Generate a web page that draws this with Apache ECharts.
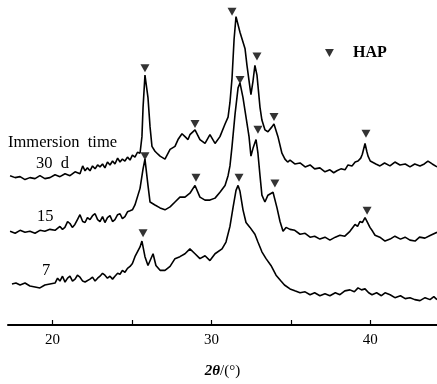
<!DOCTYPE html>
<html>
<head>
<meta charset="utf-8">
<script src="https://cdn.jsdelivr.net/npm/echarts@6/dist/echarts.min.js"></script>
<style>
  html, body { margin: 0; padding: 0; background: #fff; }
  #chart { width: 437px; height: 384px; }
</style>
</head>
<body>
<div id="chart"></div>
<script>
// 2theta (deg) and intensity (a.u., offset per curve)
const theta30 = [17.33,17.65,17.96,18.27,18.58,18.90,19.21,19.52,19.84,20.16,20.47,20.79,21.10,21.42,21.73,21.90,22.05,22.20,22.36,22.52,22.68,22.84,22.99,23.15,23.30,23.46,23.62,23.78,23.93,24.10,24.25,24.40,24.56,24.72,24.88,25.03,25.19,25.35,25.51,25.63,25.70,25.82,26.01,26.14,26.26,26.45,26.64,26.77,27.08,27.40,27.71,27.90,28.15,28.34,28.53,28.65,28.97,29.28,29.60,29.91,30.23,30.54,30.86,31.05,31.17,31.30,31.43,31.55,31.80,32.12,32.24,32.43,32.49,32.62,32.74,32.87,33.06,33.18,33.37,33.56,33.81,33.94,34.19,34.44,34.63,34.80,34.95,35.25,35.58,35.90,36.21,36.50,36.83,37.15,37.46,37.70,37.90,38.15,38.41,38.60,38.85,39.05,39.23,39.40,39.50,39.67,39.78,39.86,40.00,40.11,40.35,40.61,40.90,41.24,41.55,41.87,42.20,42.50,42.80,43.13,43.40,43.63,43.90,44.20]
const int30 = [153,151,152,149,151,150,153,150,151,154,152,155,153,157,155,163,158,161,158,163,160,164,162,165,161,167,164,168,165,171,167,170,168,172,169,174,172,177,176,193,223,256,233,203,183,178,175,173,170,180,183,190,196,193,190,195,200,190,186,195,186,193,206,213,228,253,293,316,300,283,266,243,236,250,266,256,223,210,200,198,203,206,193,176,170,167,169,165,166,162,164,160,161,157,159,156,158,160,159,164,163,167,168,171,175,186,178,173,168,167,165,163,166,163,167,164,165,162,165,163,165,168,165,162]

const theta15 = [17.33,17.65,17.96,18.27,18.58,18.90,19.21,19.52,19.84,20.16,20.47,20.63,20.78,20.95,21.10,21.25,21.41,21.57,21.73,21.90,22.05,22.20,22.36,22.52,22.68,22.84,22.99,23.15,23.30,23.46,23.62,23.78,23.93,24.10,24.25,24.40,24.56,24.72,24.88,25.03,25.19,25.51,25.70,25.82,26.01,26.14,26.45,26.77,27.08,27.40,27.71,28.02,28.34,28.65,28.97,29.28,29.60,29.91,30.23,30.54,30.86,31.05,31.17,31.30,31.49,31.68,31.80,31.99,32.18,32.37,32.49,32.62,32.81,32.93,33.06,33.18,33.37,33.56,33.88,34.13,34.32,34.51,34.70,34.95,35.25,35.58,35.90,36.21,36.50,36.83,37.15,37.46,37.80,38.09,38.40,38.72,38.90,39.04,39.20,39.35,39.50,39.67,39.80,39.98,40.15,40.30,40.60,40.93,41.25,41.55,41.90,42.19,42.50,42.82,43.10,43.44,43.80,44.20]
const int15 = [96,94,97,95,96,94,97,96,98,97,101,98,100,106,104,100,103,108,113,106,105,110,108,112,114,108,106,111,105,110,112,106,108,113,114,109,111,116,117,118,123,140,160,170,143,126,123,120,118,121,126,131,131,135,143,131,128,128,130,136,143,153,163,183,216,243,248,233,213,193,173,181,190,176,153,133,126,133,136,120,106,96,100,98,97,93,94,90,91,88,90,87,90,92,91,96,100,103,101,106,105,110,106,100,96,92,90,86,88,91,88,90,87,86,90,89,92,95]

const theta7 = [17.45,17.70,17.96,18.27,18.58,18.90,19.21,19.52,19.84,20.16,20.32,20.47,20.63,20.79,20.95,21.10,21.26,21.42,21.57,21.73,21.90,22.05,22.36,22.52,22.68,22.84,22.99,23.15,23.30,23.46,23.62,23.78,23.93,24.10,24.25,24.40,24.56,24.72,24.88,25.03,25.19,25.51,25.63,25.82,26.01,26.33,26.51,26.77,27.08,27.40,27.71,28.02,28.34,28.65,28.97,29.28,29.60,29.91,30.23,30.67,30.92,31.17,31.36,31.55,31.68,31.80,31.99,32.18,32.43,32.74,32.93,33.18,33.44,33.75,34.07,34.38,34.60,34.95,35.25,35.58,35.90,36.21,36.50,36.83,37.15,37.46,37.80,38.09,38.40,38.72,39.00,39.23,39.45,39.67,39.90,40.11,40.40,40.70,40.93,41.25,41.55,41.90,42.20,42.50,42.80,43.13,43.45,43.76,44.00,44.20]
const int7 = [42,43,41,43,40,39,38,41,42,43,48,45,50,44,48,50,45,47,51,49,45,44,47,49,45,48,50,53,51,48,50,47,50,53,52,56,54,58,60,63,70,80,86,70,61,73,61,56,56,60,68,70,73,78,73,68,71,66,73,78,85,101,120,138,143,137,118,105,100,93,85,75,68,61,51,45,41,37,35,33,34,31,33,30,32,30,33,31,35,36,34,38,36,37,33,31,33,30,33,31,28,30,27,28,26,25,28,26,29,26]

// HAP reflections marked with triangles
const hap30Theta = [25.82,28.97,31.30,32.87,33.94,39.73]
const hap30Int = [263,206,321,275,213,196]
const hap15Theta = [25.82,29.03,31.80,32.93,34.00,39.80]
const hap15Int = [173,151,251,200,145,117]
const hap7Theta = [25.70,31.74]
const hap7Int = [94,151]

const tickValues = [20,25,30,35,40]
const labelValues = [20,30,40]

const pair = (xs, ys) => xs.map((x, i) => [x, ys[i]])
const serif = 'Liberation Serif'

const lineSeries = (data) => ({
  type: 'line',
  data: data,
  showSymbol: false,
  silent: true,
  lineStyle: { color: '#000', width: 1.6 }
})
const markSeries = (data) => ({
  name: 'HAP',
  type: 'scatter',
  data: data,
  symbol: 'triangle',
  symbolRotate: 180,
  symbolSize: [9, 8],
  itemStyle: { color: '#000' },
  silent: true
})

const myChart = echarts.init(document.getElementById('chart'))
const option = {
  animation: false,
  backgroundColor: '#fff',
  grid: { left: 8, right: 0, top: 0, bottom: 51 },
  legend: {
    data: ['HAP'],
    left: 320,
    top: 40,
    icon: 'path://M0,0L10,0L5,9Z',
    itemWidth: 9,
    itemHeight: 8,
    itemStyle: { color: '#000' },
    textStyle: { fontFamily: serif, fontSize: 16, fontWeight: 'bold', color: '#000', padding: [0, 0, 0, 14] },
    selectedMode: false
  },
  xAxis: {
    type: 'value',
    min: 17.2,
    max: 44.2,
    axisLine: { lineStyle: { color: '#000', width: 2 } },
    axisTick: { inside: true, length: 5, customValues: tickValues, lineStyle: { color: '#000', width: 1.2 } },
    axisLabel: { customValues: labelValues, margin: 8, fontFamily: serif, fontSize: 15, color: '#000' },
    splitLine: { show: false },
    name: '{i|2θ}/(°)',
    nameLocation: 'middle',
    nameGap: 39,
    nameTextStyle: {
      fontFamily: serif, fontSize: 15, color: '#000',
      rich: { i: { fontFamily: serif, fontSize: 15, fontStyle: 'italic', fontWeight: 'bold', color: '#000' } }
    }
  },
  yAxis: { type: 'value', min: 0, max: 333, show: false },
  graphic: [
    { type: 'text', left: 8, top: 134, style: { text: 'Immersion  time', font: '16.5px "Liberation Serif"', fill: '#000' } },
    { type: 'text', left: 36, top: 155, style: { text: '30  d', font: '16.5px "Liberation Serif"', fill: '#000' } },
    { type: 'text', left: 37, top: 208, style: { text: '15', font: '16.5px "Liberation Serif"', fill: '#000' } },
    { type: 'text', left: 42, top: 262, style: { text: '7', font: '16.5px "Liberation Serif"', fill: '#000' } }
  ],
  series: [
    lineSeries(pair(theta30, int30)),
    lineSeries(pair(theta15, int15)),
    lineSeries(pair(theta7, int7)),
    markSeries(pair(hap30Theta, hap30Int)),
    markSeries(pair(hap15Theta, hap15Int)),
    markSeries(pair(hap7Theta, hap7Int))
  ]
}
myChart.setOption(option)
window.addEventListener('resize', function () {
  myChart.resize()
})
</script>
</body>
</html>
